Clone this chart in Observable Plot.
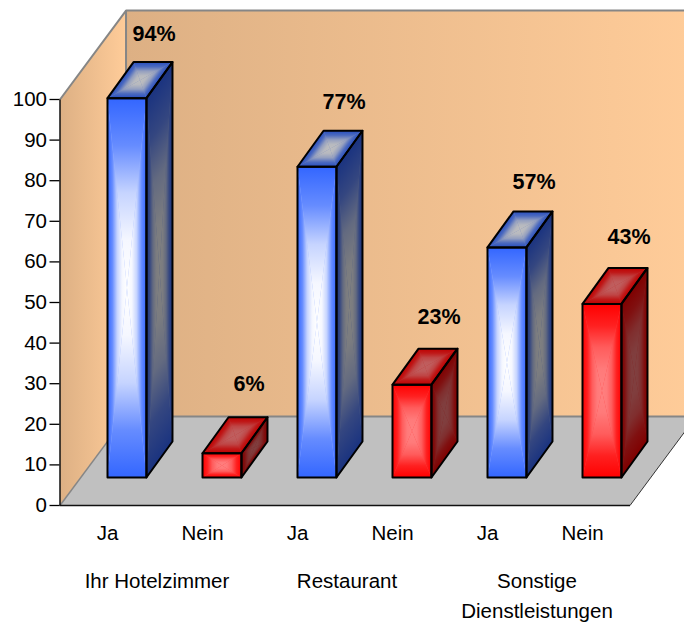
<!DOCTYPE html>
<html>
<head>
<meta charset="utf-8">
<script src="https://cdn.jsdelivr.net/npm/d3@7"></script>
<script src="https://cdn.jsdelivr.net/npm/@observablehq/plot@0.6"></script>
<style>
  html, body { margin: 0; padding: 0; background: #fff; }
  svg { display: block; }
</style>
</head>
<body>
<script>
// Survey answers per service area
const answers = ["Ja", "Nein", "Ja", "Nein", "Ja", "Nein"];
const percents = [94, 6, 77, 23, 57, 43];
const groups = ["Ihr Hotelzimmer", "Restaurant", "Sonstige\nDienstleistungen"];
const yTicks = [0, 10, 20, 30, 40, 50, 60, 70, 80, 90, 100];

// Oblique projection, in data units (x: one category slot, y: one percent)
const floorDepth = { x: 0.695, y: 21.9 };
const barBase = 6.9;
const barInset = 0.5;
const barWidth = 0.41;
const barDepth = { x: 0.274, y: 8.87 };
const barScale = 0.994;
const wallTop = 100 + floorDepth.y;
const slots = answers.length;

// Shade pairs: [edge colour, centre colour] for each bar face
const palette = {
  Ja: { front: ["#3366ff", "#ffffff"], side: ["#1a3380", "#808080"], top: ["#264dbf", "#bfbfbf"] },
  Nein: { front: ["#ff0000", "#ff8080"], side: ["#800000", "#804040"], top: ["#bf0000", "#bf6060"] }
};

// Blend curve from a face's edge (0) to its centre (1)
const blendAt = [0, 0.25, 0.72, 0.95, 1];

// Faces of every bar as corner lists
const faces = [];
percents.forEach((v, i) => {
  const x0 = i + barInset, x1 = x0 + barWidth;
  const y0 = barBase, y1 = barBase + v * barScale;
  const d = barDepth;
  const shades = palette[answers[i]];
  faces.push({ id: `b${i}front`, shade: shades.front, pts: [[x0, y0], [x1, y0], [x1, y1], [x0, y1]] });
  faces.push({ id: `b${i}side`, shade: shades.side, pts: [[x1, y0], [x1 + d.x, y0 + d.y], [x1 + d.x, y1 + d.y], [x1, y1]] });
  faces.push({ id: `b${i}top`, shade: shades.top, pts: [[x0, y1], [x1, y1], [x1 + d.x, y1 + d.y], [x0 + d.x, y1 + d.y]] });
});

// Each face is four triangles meeting at its centre, shaded from edge to centre
const triangles = faces.flatMap(f => {
  const c = [d3.mean(f.pts, p => p[0]), d3.mean(f.pts, p => p[1])];
  return f.pts.map((p, k) => ({
    id: `${f.id}t${k}`, shade: f.shade, a: p, b: f.pts[(k + 1) % 4], c
  }));
});

const polyRows = (id, pts, extra = {}) => pts.map(p => ({ id, x: p[0], y: p[1], ...extra }));
const triRows = triangles.flatMap(t => polyRows(t.id, [t.a, t.b, t.c], { fill: `url(#${t.id})` }));
const baseRows = faces.flatMap(f => polyRows(f.id, f.pts, { fill: d3.interpolateRgb(f.shade[0], f.shade[1])(0.5) }));
const seq = (rows, opts) => Plot.line(rows, {
  x: "x", y: "y", z: "id", curve: "linear-closed", stroke: "none", ...opts
});

const leftWall = [[0, 0], [floorDepth.x, floorDepth.y], [floorDepth.x, wallTop], [0, 100]];
const backWall = [[floorDepth.x, floorDepth.y], [slots + floorDepth.x, floorDepth.y], [slots + floorDepth.x, wallTop], [floorDepth.x, wallTop]];
const floor = [[0, 0], [slots, 0], [slots + floorDepth.x, floorDepth.y], [floorDepth.x, floorDepth.y]];

const frameLine = (pts, stroke, strokeWidth) => Plot.line(pts, {
  x: p => p[0], y: p => p[1], stroke, strokeWidth, strokeLinecap: "butt"
});

const labelRows = percents.map((v, i) => ({
  x: i + barInset + barWidth / 2 + barDepth.x,
  y: barBase + barDepth.y + v * 0.98,
  text: `${v}%`
}));

const plot = Plot.plot({
  width: 684,
  height: 622,
  marginLeft: 59.5,
  marginRight: 54.5,
  marginTop: 99,
  marginBottom: 117,
  x: { domain: [0, slots], range: [59.5, 629.5], axis: null },
  y: { domain: [0, 100], range: [505, 99] },
  style: { fontFamily: "'Liberation Sans', Arial, sans-serif", background: "#fff", color: "#000", overflow: "hidden" },
  marks: [
    seq(polyRows("floor", floor), { fill: "#c0c0c0" }),
    seq(polyRows("leftWall", leftWall), { fill: "url(#leftWallShade)" }),
    seq(polyRows("backWall", backWall), { fill: "url(#backWallShade)" }),
    frameLine([[0, 100], [floorDepth.x, wallTop], [slots + floorDepth.x, wallTop]], "#868686", 2),
    frameLine([[floorDepth.x, wallTop], [floorDepth.x, floorDepth.y], [slots + floorDepth.x, floorDepth.y]], "#868686", 2),
    frameLine([[0, 0], [floorDepth.x, floorDepth.y]], "#868686", 1.5),
    frameLine([[slots, 0], [slots + floorDepth.x, floorDepth.y]], "#333", 1),
    frameLine([[0, 100], [0, 0], [slots, 0]], "#111", 1.5),
    seq(baseRows, { fill: { value: "fill", scale: null } }),
    seq(triRows, { fill: { value: "fill", scale: null } }),
    seq(faces.flatMap(f => polyRows(f.id, f.pts)), { stroke: "#000", strokeWidth: 2, fill: "none", strokeLinejoin: "round" }),
    Plot.axisY({ ticks: yTicks, tickSize: 10, tickPadding: 3, fontSize: 20.5, label: null, tickFormat: d => d, stroke: "#000", strokeWidth: 1.3, color: "#000" }),
    Plot.text(answers, { x: (_, i) => i + 0.5, y: () => 0, text: d => d, dy: 28, fontSize: 20.5, fill: "#000" }),
    Plot.text(groups, { x: (_, i) => 2 * i + 1, y: () => 0, text: d => d, dy: 61, dx: 2, lineAnchor: "top", lineHeight: 1.46, fontSize: 20.5, fill: "#000" }),
    Plot.text(labelRows, { x: "x", y: "y", text: "text", dy: -33, dx: 1, fontSize: 21.5, fontWeight: "bold", fill: "#000" })
  ]
});

// Gradients are positioned with the plot's own scales
const sx = plot.scale("x").apply, sy = plot.scale("y").apply;
const defs = d3.select(plot).insert("defs", ":first-child");

function addGradient(id, [x1, y1], [x2, y2], stops) {
  const g = defs.append("linearGradient").attr("id", id).attr("gradientUnits", "userSpaceOnUse")
    .attr("x1", x1).attr("y1", y1).attr("x2", x2).attr("y2", y2);
  stops.forEach((color, i) => g.append("stop").attr("offset", i / (stops.length - 1)).attr("stop-color", color));
}

addGradient("leftWallShade", [sx(0), 0], [sx(floorDepth.x), 0], ["#ddb084", "#ffcc99"]);
addGradient("backWallShade", [sx(floorDepth.x), 0], [sx(slots + floorDepth.x), 0], ["#ddb084", "#ffcc99"]);

for (const t of triangles) {
  const A = [sx(t.a[0]), sy(t.a[1])], B = [sx(t.b[0]), sy(t.b[1])], C = [sx(t.c[0]), sy(t.c[1])];
  const ex = B[0] - A[0], ey = B[1] - A[1];
  const k = ((C[0] - A[0]) * ex + (C[1] - A[1]) * ey) / (ex * ex + ey * ey);
  const blend = d3.interpolateRgb(t.shade[0], t.shade[1]);
  addGradient(t.id, [A[0] + k * ex, A[1] + k * ey], C, blendAt.map(blend));
}

document.body.append(plot);
</script>
</body>
</html>
